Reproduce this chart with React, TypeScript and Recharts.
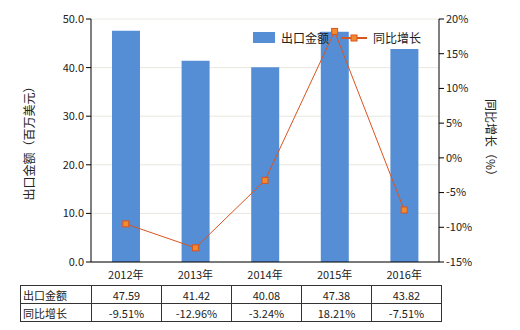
import { ComposedChart, Bar, Line, XAxis, YAxis, CartesianGrid, Legend } from "recharts";

const years = ["2012年", "2013年", "2014年", "2015年", "2016年"];
const exportValue = [47.59, 41.42, 40.08, 47.38, 43.82];
const growth = [-9.51, -12.96, -3.24, 18.21, -7.51];
const leftTicks = [0, 10, 20, 30, 40, 50];
const rightTicks = [-15, -10, -5, 0, 5, 10, 15, 20];

const data = years.map((y, i) => ({ year: y, value: exportValue[i], growth: growth[i] }));

const font = "'Noto Sans CJK SC', 'Noto Sans', sans-serif";
const barColor = "#558ED5";
const lineColor = "#D9541E";

function Square(props: any) {
  const { cx, cy } = props;
  if (cx == null || cy == null) return null;
  return <rect x={cx - 3} y={cy - 3} width={6} height={6} fill="#F28A30" stroke={lineColor} strokeWidth={1} />;
}

function LegendBox() {
  return (
    <div style={{ display: "flex", alignItems: "center", fontSize: 12, color: "#222", fontFamily: font }}>
      <span style={{ display: "inline-block", width: 22, height: 11, background: barColor, marginRight: 6 }} />
      <span style={{ marginRight: 12 }}>出口金额</span>
      <svg width={26} height={12} style={{ marginRight: 6 }}>
        <line x1={0} y1={6} x2={26} y2={6} stroke={lineColor} strokeWidth={2} />
        <rect x={10} y={3} width={6} height={6} fill="#F28A30" stroke={lineColor} />
      </svg>
      <span>同比增长</span>
    </div>
  );
}

const fmtPct = (v: number) => v.toFixed(2) + "%";

export default function App() {
  const cellStyle: React.CSSProperties = {
    border: "1px solid #333",
    height: 17,
    padding: 0,
    textAlign: "center",
    fontSize: 11,
    color: "#222",
  };
  const headStyle: React.CSSProperties = { ...cellStyle, textAlign: "left", paddingLeft: 2, width: 68 };
  return (
    <div style={{ position: "absolute", left: 0, top: 0, width: 520, height: 330, background: "#fff", fontFamily: font }}>
      <ComposedChart width={520} height={330} data={data} margin={{ top: 19, right: 0, left: 0, bottom: 48 }}>
        <CartesianGrid vertical={false} stroke="#e8e8e0" yAxisId="left" />
        <XAxis
          dataKey="year"
          axisLine={{ stroke: "#000" }}
          tickLine={false}
          height={20}
          tick={{ fontSize: 11, fill: "#222", fontFamily: font }}
          tickMargin={3}
        />
        <YAxis
          yAxisId="left"
          width={91}
          domain={[0, 50]}
          ticks={leftTicks}
          interval={0}
          tickFormatter={(v: number) => v.toFixed(1)}
          axisLine={{ stroke: "#000" }}
          tickLine={{ stroke: "#000" }}
          tickSize={5}
          tick={{ fontSize: 11, fill: "#222", fontFamily: font }}
          label={{
            value: "出口金额（百万美元）",
            angle: -90,
            position: "insideLeft",
            offset: 30,
            style: { fontSize: 12, fill: "#222", fontFamily: font, textAnchor: "middle" },
          }}
        />
        <YAxis
          yAxisId="right"
          orientation="right"
          width={81}
          domain={[-15, 20]}
          ticks={rightTicks}
          interval={0}
          tickFormatter={(v: number) => v + "%"}
          axisLine={{ stroke: "#000" }}
          tickLine={{ stroke: "#000" }}
          tickSize={5}
          tick={{ fontSize: 11, fill: "#222", fontFamily: font }}
          label={{
            value: "同比增长（%）",
            angle: 90,
            position: "insideRight",
            offset: 30,
            style: { fontSize: 12, fill: "#222", fontFamily: font, textAnchor: "middle" },
          }}
        />
        <Legend
          verticalAlign="middle"
          align="center"
          layout="horizontal"
          wrapperStyle={{ top: 29, left: 253, width: "auto" }}
          content={() => <LegendBox />}
        />
        <Bar yAxisId="left" dataKey="value" name="出口金额" fill={barColor} barSize={28} isAnimationActive={false} />
        <Line
          yAxisId="right"
          dataKey="growth"
          name="同比增长"
          stroke={lineColor}
          strokeWidth={1}
          dot={<Square />}
          activeDot={false}
          isAnimationActive={false}
        />
      </ComposedChart>
      <table
        style={{
          position: "absolute",
          left: 20,
          top: 285,
          borderCollapse: "collapse",
          fontFamily: font,
          tableLayout: "fixed",
        }}
      >
        <tbody>
          <tr>
            <td style={headStyle}>出口金额</td>
            {exportValue.map((v, i) => (
              <td key={i} style={{ ...cellStyle, width: 69 }}>{v.toFixed(2)}</td>
            ))}
          </tr>
          <tr>
            <td style={headStyle}>同比增长</td>
            {growth.map((v, i) => (
              <td key={i} style={{ ...cellStyle, width: 69 }}>{fmtPct(v)}</td>
            ))}
          </tr>
        </tbody>
      </table>
    </div>
  );
}
